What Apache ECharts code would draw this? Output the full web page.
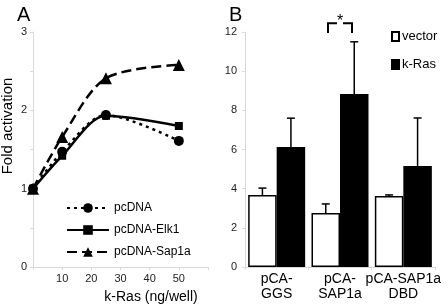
<!DOCTYPE html>
<html>
<head>
<meta charset="utf-8">
<script src="https://cdn.jsdelivr.net/npm/echarts@6/dist/echarts.min.js"></script>
<style>
  html, body { margin: 0; padding: 0; background: #fff; }
  #chart { width: 448px; height: 308px; }
</style>
</head>
<body>
<div id="chart"></div>
<script>
  // panel A: fold activation vs k-Ras dose
  var doses = [0, 10, 25, 50];
  var pcDNA = [1, 1.47, 1.94, 1.61];
  var pcElk1 = [1, 1.42, 1.93, 1.80];
  var pcSap1a = [1, 1.66, 2.41, 2.58];

  // panel B: bars with upward error bars
  var constructs = ['pCA-\nGGS', 'pCA-\nSAP1a', 'pCA-SAP1a\nDBD'];
  var vectorVals = [3.68, 2.76, 3.63];
  var vectorErr = [0.35, 0.46, 0.05];
  var krasVals = [6.13, 8.83, 5.16];
  var krasErr = [1.47, 2.67, 2.45];
  var sigGroup = 1;

  var font = 'Liberation Sans, Arial, sans-serif';
  var faint = '#d9d9d9';

  function pairs(ys) {
    return doses.map(function (d, i) { return [d, ys[i]]; });
  }

  function lineSeries(name, ys, symbol, size, dash) {
    return {
      name: name,
      type: 'line',
      xAxisIndex: 0,
      yAxisIndex: 0,
      data: pairs(ys),
      smooth: 0.3,
      symbol: symbol,
      symbolSize: size,
      itemStyle: { color: '#000' },
      lineStyle: { color: '#000', width: 2.5, type: dash },
      z: 3
    };
  }

  function errorBars(vals, errs, side) {
    return {
      type: 'custom',
      xAxisIndex: 1,
      yAxisIndex: 1,
      z: 4,
      silent: true,
      data: vals.map(function (v, i) { return [i, v, v + errs[i]]; }),
      renderItem: function (params, api) {
        var base = api.coord([api.value(0), api.value(1)]);
        var top = api.coord([api.value(0), api.value(2)]);
        var bw = api.size([1, 0])[0] * 0.9 / 2;
        var x = base[0] + side * bw / 2;
        var st = { stroke: '#000', lineWidth: 1.5 };
        return {
          type: 'group',
          children: [
            { type: 'line', shape: { x1: x, y1: base[1], x2: x, y2: top[1] }, style: st },
            { type: 'line', shape: { x1: x - 4, y1: top[1], x2: x + 4, y2: top[1] }, style: st }
          ]
        };
      }
    };
  }

  var chart = echarts.init(document.getElementById('chart'));
  chart.setOption({
    animation: false,
    textStyle: { fontFamily: font },
    title: [
      { text: 'A', left: 12, top: 0, textStyle: { fontSize: 20, fontWeight: 'normal', color: '#000', fontFamily: font } },
      { text: 'B', left: 224, top: 0, textStyle: { fontSize: 20, fontWeight: 'normal', color: '#000', fontFamily: font } }
    ],
    graphic: [
      {
        type: 'text', x: 8, y: 126, rotation: Math.PI / 2,
        style: { text: 'Fold activation', font: '15px ' + font, fill: '#000', align: 'center', verticalAlign: 'middle' }
      },
      {
        type: 'text', x: 151, y: 297,
        style: { text: 'k-Ras (ng/well)', font: '14px ' + font, fill: '#000', align: 'center', verticalAlign: 'middle' }
      }
    ],
    legend: [
      {
        data: ['pcDNA', 'pcDNA-Elk1', 'pcDNA-Sap1a'],
        orient: 'vertical',
        left: 61, top: 197,
        itemWidth: 42, itemHeight: 12, itemGap: 10,
        textStyle: { fontSize: 12, color: '#000', fontFamily: font }
      },
      {
        data: ['vector', 'k-Ras'],
        orient: 'vertical',
        left: 386, top: 25,
        icon: 'rect',
        itemWidth: 7, itemHeight: 9, itemGap: 15,
        textStyle: { fontSize: 13, color: '#000', fontFamily: font, padding: [0, 0, 0, -2] }
      }
    ],
    grid: [
      { left: 33, right: 240, top: 32, bottom: 41 },
      { left: 245, right: 13, top: 32, bottom: 41 }
    ],
    xAxis: [
      {
        gridIndex: 0, type: 'value', min: 0, max: 60, interval: 10,
        splitLine: { show: false },
        axisLine: { lineStyle: { color: faint } },
        axisTick: { show: true, length: 3, lineStyle: { color: faint } },
        axisLabel: {
          margin: 6, fontSize: 11, color: '#222',
          formatter: function (v) { return (v > 0 && v < 60) ? v : ''; }
        }
      },
      {
        gridIndex: 1, type: 'category', data: constructs,
        axisLine: { lineStyle: { color: faint } },
        axisTick: { show: true, length: 3, lineStyle: { color: faint } },
        axisLabel: { interval: 0, margin: 5, fontSize: 14, lineHeight: 15, color: '#000' }
      }
    ],
    yAxis: [
      {
        gridIndex: 0, type: 'value', min: 0, max: 3, interval: 0.5,
        splitLine: { show: false },
        axisLine: { show: true, lineStyle: { color: faint } },
        axisTick: { show: true, length: 3, lineStyle: { color: faint } },
        axisLabel: {
          margin: 6, fontSize: 11, color: '#222',
          formatter: function (v) { return v % 1 === 0 ? v : ''; }
        }
      },
      {
        gridIndex: 1, type: 'value', min: 0, max: 12, interval: 2,
        splitLine: { show: false },
        axisLine: { show: true, lineStyle: { color: faint } },
        axisTick: { show: true, length: 3, lineStyle: { color: faint } },
        axisLabel: { margin: 8, fontSize: 11, color: '#222' }
      }
    ],
    series: [
      lineSeries('pcDNA', pcDNA, 'circle', 10, [3, 4]),
      lineSeries('pcDNA-Elk1', pcElk1, 'rect', 8, 'solid'),
      lineSeries('pcDNA-Sap1a', pcSap1a, 'triangle', 12, [10, 5]),
      {
        name: 'vector', type: 'bar', xAxisIndex: 1, yAxisIndex: 1,
        data: vectorVals, barGap: '0%', barCategoryGap: '10%',
        itemStyle: { color: '#fff', borderColor: '#000', borderWidth: 1.5 }
      },
      {
        name: 'k-Ras', type: 'bar', xAxisIndex: 1, yAxisIndex: 1,
        data: krasVals, barGap: '0%', barCategoryGap: '10%',
        itemStyle: { color: '#000', borderColor: '#000', borderWidth: 1.5 }
      },
      errorBars(vectorVals, vectorErr, -1),
      errorBars(krasVals, krasErr, 1),
      {
        type: 'custom', xAxisIndex: 1, yAxisIndex: 1, z: 5, silent: true,
        data: [[sigGroup, 11.95, 12.45, 12.55]],
        renderItem: function (params, api) {
          var lo = api.coord([api.value(0), api.value(1)]);
          var hi = api.coord([api.value(0), api.value(2)]);
          var star = api.coord([api.value(0), api.value(3)]);
          var cx = lo[0], w = 12;
          var st = { stroke: '#000', lineWidth: 2, fill: null };
          return {
            type: 'group',
            children: [
              { type: 'polyline', shape: { points: [[cx - w, lo[1]], [cx - w, hi[1]], [cx - 3, hi[1]]] }, style: st },
              { type: 'polyline', shape: { points: [[cx + 3, hi[1]], [cx + w, hi[1]], [cx + w, lo[1]]] }, style: st },
              { type: 'text', x: cx, y: star[1], style: { text: '*', font: '16px ' + font, fill: '#000', align: 'center', verticalAlign: 'middle' } }
            ]
          };
        }
      }
    ]
  });
</script>
</body>
</html>
